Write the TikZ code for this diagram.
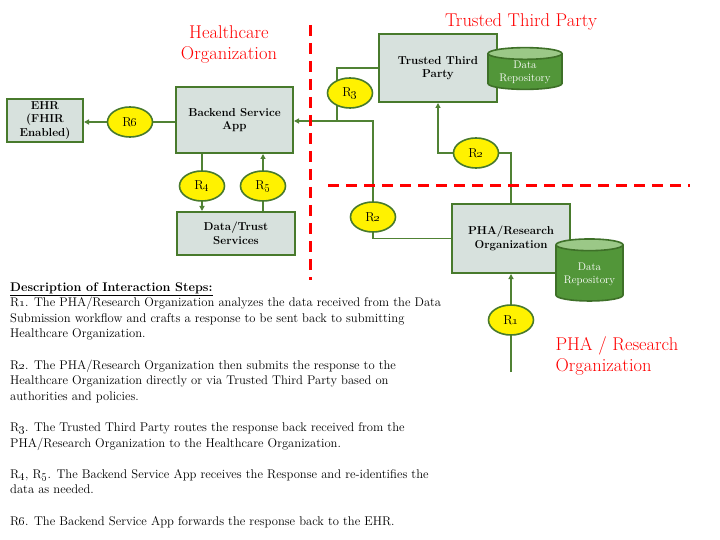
\documentclass[tikz,border=0pt]{standalone}
\usetikzlibrary{arrows.meta,positioning,shapes.geometric,backgrounds}

\definecolor{boxfill}{RGB}{215,225,221}
\definecolor{boxline}{RGB}{72,122,44}
\definecolor{flowline}{RGB}{80,130,52}
\definecolor{repobody}{RGB}{82,150,57}
\definecolor{repotop}{RGB}{155,200,135}
\definecolor{repoline}{RGB}{62,112,40}

\newcommand\rstep[1]{R\oldstylenums{#1}}

\begin{document}
\begin{tikzpicture}[x=1pt, y=-1pt,
  box/.style={rectangle, fill=boxfill, draw=boxline, line width=2pt, align=center, inner sep=2pt, font=\bfseries\fontsize{11.5}{13.5}\selectfont},
  oval/.style={ellipse, fill=yellow, draw=boxline, line width=1.6pt, minimum width=45pt, minimum height=30pt, inner sep=0pt, font=\fontsize{13}{15}\selectfont},
  repo/.style={cylinder, shape border rotate=90, aspect=0.22, draw=repoline, line width=1.6pt, cylinder uses custom fill, cylinder body fill=repobody, cylinder end fill=repotop, text=white, align=center, inner sep=1pt, font=\fontsize{11}{13}\selectfont},
  flow/.style={draw=flowline, line width=1.2pt, -{Triangle[length=5pt,width=5pt]}},
  link/.style={draw=flowline, line width=1.2pt},
  zone/.style={text=red, font=\fontsize{18.5}{21}\selectfont, align=center},
  border/.style={draw=red, line width=3pt, dash pattern=on 11pt off 7pt},
]
\useasboundingbox (0,0) rectangle (720,540);

% ---------- zone borders and titles ----------
\draw[border] (310,25) -- (310,280);
\draw[border] (328,186) -- (690,186);
\node[zone] (hcorg) at (229,44) {Healthcare\\Organization};
\node[zone] (ttporg) at (521,22) {Trusted Third Party};
\node[zone, align=left, anchor=west] (phaorg) at (552,356) {PHA / Research\\Organization};

% ================= healthcare organization =================
\node[box, minimum width=76pt, minimum height=43pt] (ehr) at (45,120.5) {EHR\\(FHIR\\Enabled)};
\node[box, minimum width=117pt, minimum height=66pt] (backend) at (234.5,120) {Backend Service\\App};
\node[box, minimum width=118pt, minimum height=43pt] (datatrust) at (236,233.5) {Data/Trust\\Services};

% ================= trusted third party =================
\node[box, minimum width=118pt, minimum height=68pt] (ttp) at (438,68) {Trusted Third\\Party};
\node[repo, minimum width=74pt, minimum height=39pt] (ttprepo) at (525,72.5) {Data\\Repository};

% ================= PHA / research organization =================
\node[box, minimum width=118pt, minimum height=69pt] (pha) at (511,238.5) {PHA/Research\\Organization};
\node[repo, minimum width=67pt, minimum height=62pt] (pharepo) at (589.5,274) {Data\\Repository};

% ---------- response steps ----------
\node[oval] (r6) at (130,122) {\rstep{6}};
\node[oval] (r4) at (202,186) {\rstep{4}};
\node[oval] (r5) at (263,186) {\rstep{5}};
\node[oval] (r3) at (350,93) {\rstep{3}};
\node[oval] (r2a) at (476,153) {\rstep{2}};
\node[oval] (r2b) at (373,217) {\rstep{2}};
\node[oval] (r1) at (511,320) {\rstep{1}};

\coordinate (j3) at (337,121);
\coordinate (src) at (511,372);

\begin{scope}[on background layer]
  \fill[white] (0,0) rectangle (720,540);
  \draw[flow] (backend.west |- r6) -- (ehr.east |- r6);
  \draw[flow] (r4 |- backend.south) -- (r4 |- datatrust.north);
  \draw[flow] (r5 |- datatrust.north) -- (r5 |- backend.south);
  \draw[link] (ttp.west) -| (j3);
  \draw[flow] (pha.west) -| (r2b |- j3) -- (backend.east |- j3);
  \draw[flow] (pha.north) |- (r2a) -| (ttp.south);
  \draw[flow] (src) -- (pha.south);
\end{scope}

% ---------- description ----------
\node[anchor=north west, align=left, inner sep=0pt, font=\fontsize{12.6}{15.6}\selectfont] (steps) at (10,282) {%
\textbf{\underline{Description of Interaction Steps:}}\\
\rstep{1}. The PHA/Research Organization analyzes the data received from the Data\\
Submission workflow and crafts a response to be sent back to submitting\\
Healthcare Organization.\\[15.6pt]
\rstep{2}. The PHA/Research Organization then submits the response to the\\
Healthcare Organization directly or via Trusted Third Party based on\\
authorities and policies.\\[15.6pt]
\rstep{3}. The Trusted Third Party routes the response back received from the\\
PHA/Research Organization to the Healthcare Organization.\\[15.6pt]
\rstep{4}, \rstep{5}. The Backend Service App receives the Response and re-identifies the\\
data as needed.\\[15.6pt]
\rstep{6}. The Backend Service App forwards the response back to the EHR.};
\end{tikzpicture}
\end{document}
